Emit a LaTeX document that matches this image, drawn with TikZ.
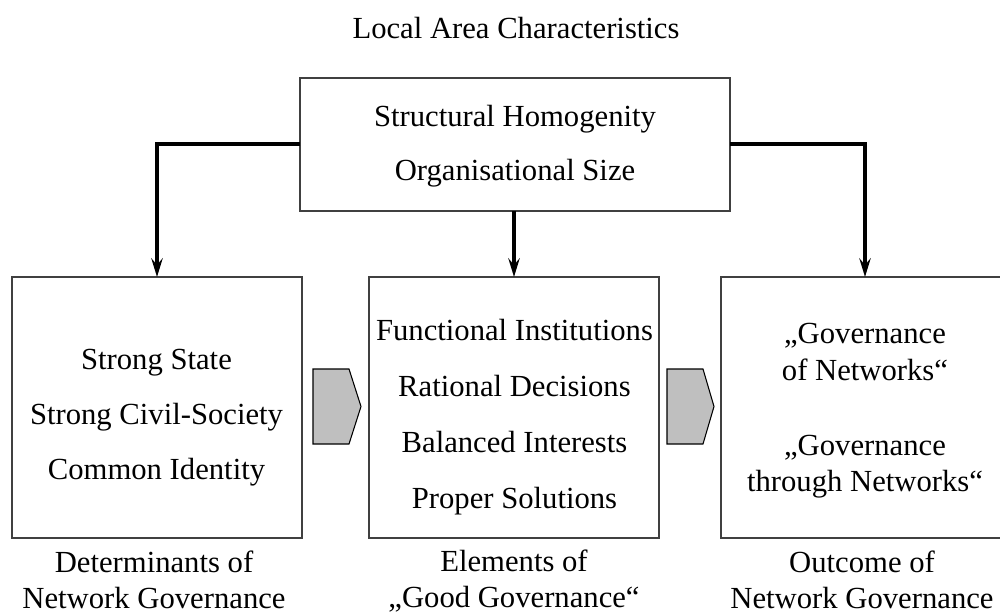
\documentclass[tikz,border=0pt]{standalone}
\usepackage{fontspec}
\setmainfont{Liberation Serif}
\usetikzlibrary{arrows.meta}
\tikzset{
  box/.style={draw=black!75, line width=0.9pt, rectangle, inner sep=0pt, outer sep=0pt},
  txt/.style={align=center, inner sep=0pt, outer sep=0pt},
  flow/.style={line width=3pt, -{Stealth[length=14pt,width=8.5pt,inset=5pt]}},
  pent/.style={draw=black, line width=0.8pt, fill=gray!50, line join=miter},
  lab/.style={txt, font=\fontsize{23}{27}\selectfont},
}
\begin{document}
\begin{tikzpicture}[x=0.75pt,y=-0.75pt]
\useasboundingbox (0,0) rectangle (1000,613);
\clip (0,0) rectangle (1000,613);
% title
\node[lab, anchor=base] (title) at (516,39) {Local Area Characteristics};
% boxes
\node[box, minimum width=322.5pt, minimum height=99.75pt] (top) at (515,144.5) {};
\node[box, minimum width=217.5pt, minimum height=195.75pt] (left) at (157,407.5) {};
\node[box, minimum width=217.5pt, minimum height=195.75pt] (mid) at (514,407.5) {};
\node[box, minimum width=216pt, minimum height=195.75pt] (right) at (865,407.5) {};
% texts
\node[txt, font=\fontsize{23}{40.5}\selectfont] (toptxt) at (515,146.5) {Structural Homogenity\\Organisational Size};
\node[txt, font=\fontsize{23}{41.25}\selectfont] (lefttxt) at (156.5,417.4) {Strong State\\Strong Civil-Society\\Common Identity};
\node[txt, font=\fontsize{23}{42}\selectfont] (midtxt) at (514.5,416.8) {Functional Institutions\\Rational Decisions\\Balanced Interests\\Proper Solutions};
\node[txt, font=\fontsize{23}{27.5}\selectfont] (righttxt) at (865,410.9) {„Governance\\of Networks“\\[28.5pt]„Governance\\through Networks“};
% bottom labels
\node[lab] (leftlab) at (154,579.4) {Determinants of\\Network Governance};
\node[lab] (midlab) at (514,581.4) {Elements of\\„Good Governance“};
\node[lab] (rightlab) at (862,579.4) {Outcome of\\Network Governance};
% connectors
\draw[flow] (top.west) -| (left.north);
\draw[flow] (top.east) -| (right.north);
\draw[flow] (mid.north |- top.south) -- (mid.north);
% pentagon arrows
\draw[pent] (313,369) -- (349,369) -- (361,406.5) -- (349,444) -- (313,444) -- cycle;
\draw[pent] (667,369) -- (703,369) -- (714,406.5) -- (703,444) -- (667,444) -- cycle;
\end{tikzpicture}
\end{document}
